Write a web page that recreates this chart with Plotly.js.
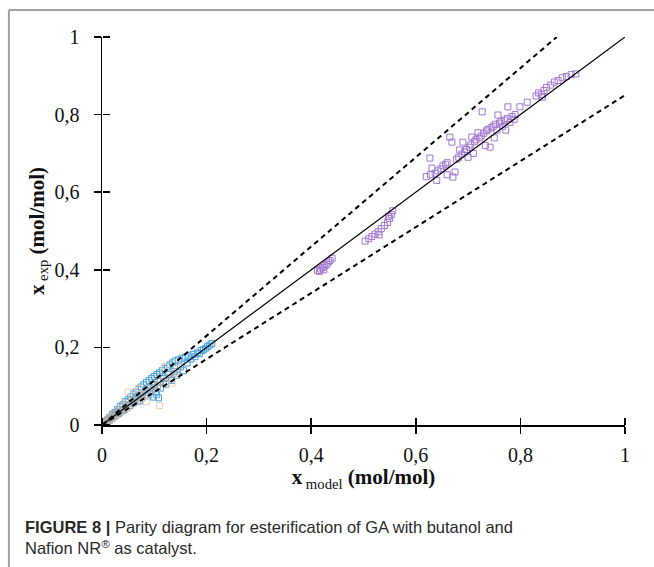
<!DOCTYPE html>
<html>
<head>
<meta charset="utf-8">
<script src="https://cdn.plot.ly/plotly-3.0.1.min.js"></script>
<style>html,body{margin:0;padding:0;background:#fff;}#chart{width:654px;height:567px;}</style>
</head>
<body>
<div id="chart"></div>
<script>
// ---- data ----
var purpleX = [0.412,0.418,0.422,0.426,0.430,0.433,0.436,0.440,0.424,0.416,
  0.503,0.510,0.516,0.522,0.528,0.534,0.540,0.546,0.550,0.553,0.556,0.548,0.530,
  0.627,0.631,0.620,0.628,0.637,0.642,0.648,0.652,0.657,0.660,0.665,0.669,0.671,0.675,0.678,0.682,0.684,0.688,0.690,0.693,0.697,0.700,0.702,0.705,0.707,0.710,0.712,0.715,0.719,0.722,0.725,0.727,0.730,0.733,0.735,0.738,0.742,0.744,0.748,0.750,0.752,0.755,0.757,0.760,0.763,0.766,0.770,0.772,0.775,0.776,0.780,0.784,0.788,0.790,0.799,0.813,0.640,0.660,
  0.830,0.835,0.840,0.845,0.850,0.858,0.865,0.872,0.880,0.888,0.897,0.906,0.842];
var purpleY = [0.398,0.402,0.406,0.410,0.414,0.420,0.424,0.430,0.400,0.396,
  0.474,0.480,0.486,0.492,0.498,0.506,0.514,0.522,0.532,0.542,0.552,0.538,0.490,
  0.688,0.662,0.640,0.645,0.649,0.655,0.660,0.668,0.672,0.676,0.742,0.729,0.639,0.652,0.685,0.690,0.709,0.698,0.729,0.704,0.710,0.690,0.716,0.722,0.742,0.700,0.730,0.735,0.753,0.740,0.745,0.807,0.752,0.720,0.758,0.762,0.716,0.766,0.770,0.740,0.775,0.760,0.799,0.778,0.782,0.770,0.786,0.760,0.790,0.820,0.780,0.795,0.788,0.800,0.820,0.832,0.630,0.645,
  0.848,0.856,0.852,0.862,0.870,0.876,0.884,0.888,0.895,0.898,0.903,0.905,0.845];

var blueX = [0.005,0.010,0.015,0.020,0.025,0.030,0.032,0.035,0.040,0.042,0.045,0.050,0.052,0.055,0.058,0.060,0.063,0.065,0.068,0.070,0.072,0.075,0.078,0.080,0.083,0.085,0.088,0.090,0.092,0.095,0.098,0.100,0.102,0.105,0.107,0.110,0.112,0.115,0.118,0.120,0.122,0.125,0.128,0.130,0.133,0.135,0.138,0.140,0.143,0.146,0.150,0.153,0.156,0.160,0.163,0.166,0.170,0.174,0.178,0.182,0.186,0.190,0.194,0.198,0.202,0.206,0.210,0.108,0.104,0.098];
var blueY = [0.006,0.013,0.020,0.028,0.032,0.040,0.030,0.048,0.052,0.040,0.060,0.065,0.050,0.072,0.058,0.080,0.066,0.085,0.074,0.092,0.062,0.098,0.082,0.104,0.090,0.110,0.075,0.115,0.096,0.120,0.104,0.125,0.085,0.130,0.112,0.134,0.095,0.140,0.120,0.145,0.105,0.150,0.130,0.155,0.115,0.160,0.138,0.165,0.128,0.168,0.150,0.172,0.140,0.175,0.160,0.178,0.170,0.182,0.176,0.186,0.184,0.192,0.194,0.198,0.202,0.206,0.210,0.070,0.078,0.072];

var grayX = [0.002,0.004,0.006,0.008,0.010,0.012,0.014,0.016,0.018,0.020,0.022,0.024,0.026,0.028,0.030,0.033,0.036,0.039,0.042,0.045,0.048,0.051,0.054,0.057,0.060,0.064,0.068,0.072,0.076,0.080,0.085,0.090,0.095,0.100,0.106,0.112,0.118,0.124,0.130,0.136,0.142];
var grayY = [0.002,0.006,0.004,0.010,0.008,0.015,0.012,0.020,0.016,0.024,0.020,0.030,0.024,0.034,0.028,0.040,0.034,0.046,0.038,0.052,0.044,0.058,0.050,0.064,0.056,0.070,0.062,0.078,0.070,0.086,0.078,0.094,0.088,0.104,0.098,0.112,0.108,0.122,0.120,0.132,0.138];

var orangeX = [0.050,0.143,0.110,0.134,0.085,0.120,0.070];
var orangeY = [0.085,0.160,0.050,0.108,0.060,0.150,0.095];

var parityEnds = [0, 1];
var upperFactor = 1.15;
var lowerFactor = 0.85;

var tickVals = [0, 0.2, 0.4, 0.6, 0.8, 1];
var tickText = ['0', '0,2', '0,4', '0,6', '0,8', '1'];

var xTitle = '<b>x</b><sub> model</sub><b> (mol/mol)</b>';
var yTitle = '<b>x</b><sub> exp</sub><b> (mol/mol)</b>';
var caption = '<b>FIGURE 8 |</b> Parity diagram for esterification of GA with butanol and<br>Nafion NR<sup>®</sup> as catalyst.';

// ---- traces ----
function pts(x, y, color) {
  return {x: x, y: y, type: 'scatter', mode: 'markers', showlegend: false, hoverinfo: 'skip',
    marker: {symbol: 'square-open', size: 6, color: color, line: {width: 1, color: color}}};
}
var upperX = parityEnds.map(function (v) { return v / upperFactor; });
var upperY = parityEnds.slice();
var lowerX = parityEnds.slice();
var lowerY = parityEnds.map(function (v) { return v * lowerFactor; });

var traces = [
  pts(blueX, blueY, '#45a3e0'),
  pts(grayX, grayY, '#ababab'),
  pts(orangeX, orangeY, '#f6cdb0'),
  pts(purpleX, purpleY, '#a277d0'),
  {x: parityEnds, y: parityEnds, type: 'scatter', mode: 'lines', showlegend: false, hoverinfo: 'skip',
   line: {color: '#000', width: 1.2}},
  {x: upperX, y: upperY, type: 'scatter', mode: 'lines', showlegend: false, hoverinfo: 'skip',
   line: {color: '#000', width: 2, dash: '5px,4px'}},
  {x: lowerX, y: lowerY, type: 'scatter', mode: 'lines', showlegend: false, hoverinfo: 'skip',
   line: {color: '#000', width: 2, dash: '5px,4px'}},
  // transparent copy on mirror axes so the inward tick halves are drawn
  {x: parityEnds, y: parityEnds, xaxis: 'x2', yaxis: 'y2', type: 'scatter', mode: 'lines', showlegend: false, hoverinfo: 'skip',
   line: {color: 'rgba(0,0,0,0)', width: 1}}
];

var serif = 'Liberation Serif, Times New Roman, serif';
var layout = {
  width: 654, height: 567,
  margin: {l: 102, r: 29, t: 37, b: 142, pad: 0},
  paper_bgcolor: '#fff', plot_bgcolor: '#fff',
  showlegend: false,
  xaxis: {range: [0, 1], tickvals: tickVals, ticktext: tickText, ticks: 'outside', ticklen: 7, tickwidth: 1.5, tickcolor: '#000',
    showline: true, linecolor: '#000', linewidth: 1.5, showgrid: false, zeroline: false, ticklabelstandoff: 4,
    tickfont: {family: serif, size: 20, color: '#111'},
    title: {text: xTitle, font: {family: serif, size: 21, color: '#111'}, standoff: 4}},
  yaxis: {range: [0, 1], tickvals: tickVals, ticktext: tickText, ticks: 'outside', ticklen: 7, tickwidth: 1.5, tickcolor: '#000',
    showline: true, linecolor: '#000', linewidth: 1.5, showgrid: false, zeroline: false, ticklabelstandoff: 10,
    tickfont: {family: serif, size: 20, color: '#111'},
    title: {text: yTitle, font: {family: serif, size: 21, color: '#111'}, standoff: 4}},
  // mirror axes: placed at the same line, on the opposite side, so their "outside" ticks point into the plot
  xaxis2: {overlaying: 'x', range: [0, 1], tickvals: tickVals, ticks: 'outside', ticklen: 7, tickwidth: 1.5, tickcolor: '#000',
    showticklabels: false, showline: false, showgrid: false, zeroline: false, side: 'top', anchor: 'free', position: 0},
  yaxis2: {overlaying: 'y', range: [0, 1], tickvals: tickVals, ticks: 'outside', ticklen: 7, tickwidth: 1.5, tickcolor: '#000',
    showticklabels: false, showline: false, showgrid: false, zeroline: false, side: 'right', anchor: 'free', position: 0},
  shapes: [
    {type: 'line', xref: 'paper', yref: 'paper', x0: -0.178, x1: 1.2, y0: 1.0695, y1: 1.0695, line: {color: '#a0a0a0', width: 2}},
    {type: 'line', xref: 'paper', yref: 'paper', x0: -0.178, x1: -0.178, y0: 1.0695, y1: -0.4, line: {color: '#a0a0a0', width: 2}}
  ],
  annotations: [
    {xref: 'paper', yref: 'paper', x: -0.151, y: -0.234, xanchor: 'left', yanchor: 'top', align: 'left', showarrow: false,
     text: caption, font: {family: 'Liberation Sans, Arial, sans-serif', size: 16.5, color: '#2a2a2a'}}
  ]
};

Plotly.newPlot('chart', traces, layout, {staticPlot: true, displayModeBar: false});
</script>
</body>
</html>
